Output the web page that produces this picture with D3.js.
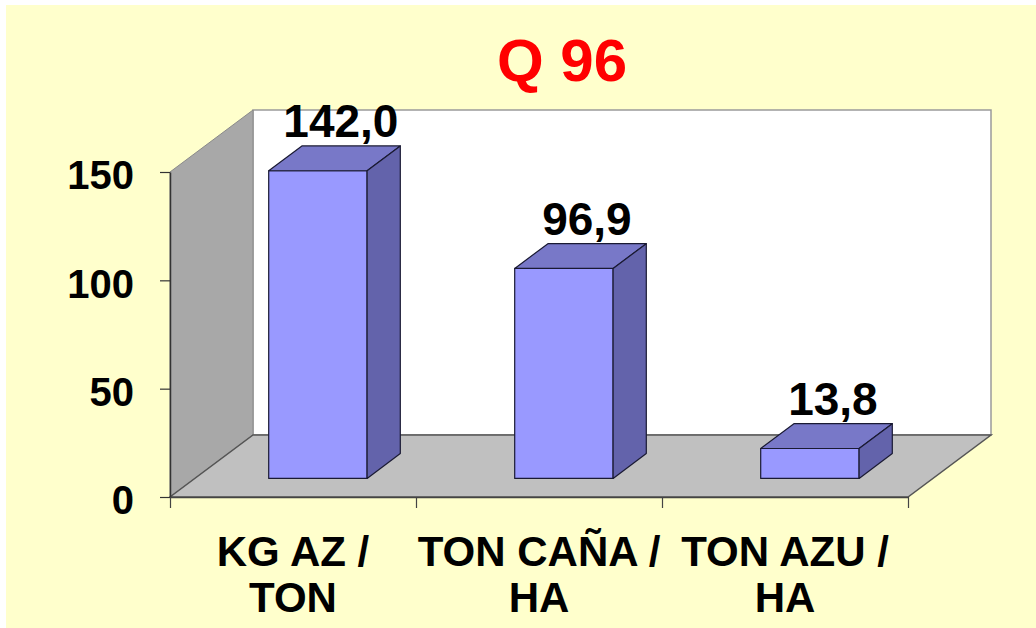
<!DOCTYPE html>
<html>
<head>
<meta charset="utf-8">
<script src="https://cdnjs.cloudflare.com/ajax/libs/d3/7.8.5/d3.min.js"></script>
<style>
  body { margin: 0; background: #fff; }
  text { font-family: Arial, "Liberation Sans", sans-serif; font-weight: bold; }
</style>
</head>
<body>
<svg width="1036" height="628"></svg>
<script>
      const title = 'Q 96';
      const categories = [['KG AZ /', 'TON'], ['TON CAÑA /', 'HA'], ['TON AZU /', 'HA']];
      const values = [142.0, 96.9, 13.8];
      const yTicks = [0, 50, 100, 150];
      const yMax = 150;

      const svg = d3.select('svg');
      const fmt = d3.formatLocale({ decimal: ',', thousands: '.', grouping: [3], currency: ['', ''] }).format('.1f');

      // plot box in the front plane, plus the depth offset of the walls
      const plotLeft = 170, plotRight = 908, plotBottom = 497, plotTop = 172;
      const depth = { dx: 83, dy: -62 };
      const barFront = 0.3, barBack = 0.7;
      const P = (x, y, z) => [x + z * depth.dx, y + z * depth.dy];
      const poly = pts => 'M' + pts.map(p => p.join(',')).join('L') + 'Z';

      svg.append('rect')
          .attr('x', 6).attr('y', 5)
          .attr('width', 1030).attr('height', 623)
          .attr('fill', '#ffffcc');

      const idx = values.map((d, i) => i);
      const yScale = d3.scaleLinear().domain([0, yMax]).range([plotBottom, plotTop]);
      const xScale = d3.scaleBand().domain(idx).range([plotLeft, plotRight])
        .paddingInner(0.6)
        .paddingOuter(0.3);
      const catScale = d3.scaleBand().domain(idx).range([plotLeft, plotRight]);
      const tickScale = d3.scaleLinear().domain([0, values.length]).range([plotLeft, plotRight]);

      // walls and floor
      svg.append('path')
          .attr('d', poly([P(plotLeft, plotTop, 1), P(plotRight, plotTop, 1), P(plotRight, plotBottom, 1), P(plotLeft, plotBottom, 1)]))
          .attr('fill', '#ffffff').attr('stroke', '#9a9a9a').attr('stroke-width', 1.5);
      svg.append('path')
          .attr('d', poly([P(plotLeft, plotTop, 0), P(plotLeft, plotTop, 1), P(plotLeft, plotBottom, 1), P(plotLeft, plotBottom, 0)]))
          .attr('fill', '#a8a8a8').attr('stroke', '#8a8a8a').attr('stroke-width', 1);
      svg.append('path')
          .attr('d', poly([P(plotLeft, plotBottom, 0), P(plotRight, plotBottom, 0), P(plotRight, plotBottom, 1), P(plotLeft, plotBottom, 1)]))
          .attr('fill', '#c0c0c0').attr('stroke', '#555').attr('stroke-width', 1.5);

      // bars
      const bars = svg.append('g').selectAll('g').data(values).enter().append('g')
          .attr('stroke', '#1a1a33').attr('stroke-width', 1.2).attr('stroke-linejoin', 'round');
      bars.each(function (v, i) {
        const g = d3.select(this);
        const xl = xScale(i), xr = xScale(i) + xScale.bandwidth();
        const yb = yScale(0), yt = yScale(v);
        g.append('path').attr('fill', '#9999ff')
          .attr('d', poly([P(xl, yt, barFront), P(xr, yt, barFront), P(xr, yb, barFront), P(xl, yb, barFront)]));
        g.append('path').attr('fill', '#7878c8')
          .attr('d', poly([P(xl, yt, barFront), P(xr, yt, barFront), P(xr, yt, barBack), P(xl, yt, barBack)]));
        g.append('path').attr('fill', '#6363ab')
          .attr('d', poly([P(xr, yt, barFront), P(xr, yt, barBack), P(xr, yb, barBack), P(xr, yb, barFront)]));
      });

      // value labels
      svg.append('g').selectAll('text').data(values).enter().append('text')
          .attr('x', (d, i) => P(xScale(i) + xScale.bandwidth() / 2, 0, barFront)[0] + 23)
          .attr('y', d => P(0, yScale(d), barBack)[1] - 9)
          .attr('text-anchor', 'middle')
          .attr('font-size', 46)
          .attr('fill', '#000')
          .text(d => fmt(d));

      // axes
      const yAxisG = svg.append('g')
          .attr('transform', `translate(${plotLeft},0)`)
          .call(d3.axisLeft(yScale).tickValues(yTicks).tickSize(10).tickSizeOuter(0).tickPadding(26));
      yAxisG.select('.domain').attr('stroke', '#333').attr('stroke-width', 1.5);
      yAxisG.selectAll('.tick line').attr('stroke', '#333').attr('stroke-width', 1.2);
      yAxisG.selectAll('.tick text')
          .attr('font-size', 40).attr('font-family', 'Arial, "Liberation Sans", sans-serif')
          .attr('font-weight', 'bold').attr('fill', '#000').attr('dy', '0.42em');

      const xAxisG = svg.append('g')
          .attr('transform', `translate(0,${plotBottom})`)
          .call(d3.axisBottom(tickScale).tickValues(d3.range(values.length + 1)).tickFormat('').tickSize(11).tickSizeOuter(0));
      xAxisG.select('.domain').attr('stroke', '#444').attr('stroke-width', 1.5);
      xAxisG.selectAll('.tick line').attr('stroke', '#444').attr('stroke-width', 1.2);

      // category labels
      const cat = svg.append('g').selectAll('text').data(categories).enter().append('text')
          .attr('x', (d, i) => catScale(i) + catScale.bandwidth() / 2)
          .attr('y', 566)
          .attr('text-anchor', 'middle')
          .attr('font-size', 42)
          .attr('fill', '#000');
      cat.selectAll('tspan').data(d => d).enter().append('tspan')
          .attr('x', function () { return d3.select(this.parentNode).attr('x'); })
          .attr('dy', (d, j) => j === 0 ? 0 : 46)
          .text(d => d);

      svg.append('text')
          .attr('x', 562).attr('y', 81)
          .attr('text-anchor', 'middle')
          .attr('font-size', 60)
          .attr('fill', '#ff0000')
          .text(title);
</script>
</body>
</html>
